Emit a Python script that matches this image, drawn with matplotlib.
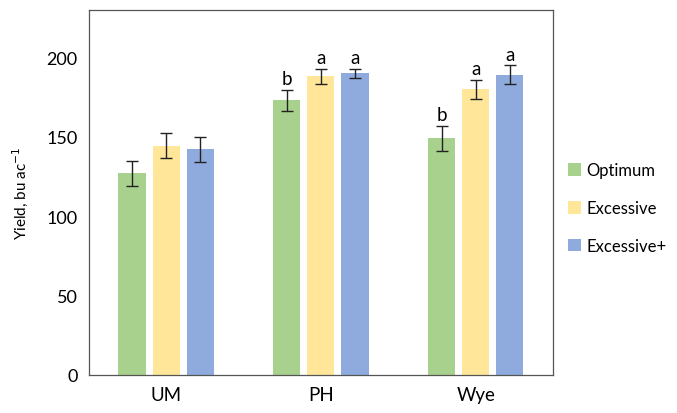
import numpy as np
import matplotlib
matplotlib.use("Agg")
import matplotlib.pyplot as plt

plt.rcParams["font.family"] = ["Lato", "DejaVu Sans"]

sites      = ["UM", "PH", "Wye"]
treatments = ["Optimum", "Excessive", "Excessive+"]
colors     = ["#A9D18E", "#FFE699", "#8FAADC"]

# yield means (bu/ac) per site, one list per treatment
means = {
    "Optimum":    [127, 173, 149],
    "Excessive":  [144.5, 188, 180],
    "Excessive+": [142, 190, 189],
}
errs = {
    "Optimum":    [8, 6.5, 8],
    "Excessive":  [8, 5, 6],
    "Excessive+": [8, 3, 6],
}
letters = {
    "Optimum":    ["", "b", "b"],
    "Excessive":  ["", "a", "a"],
    "Excessive+": ["", "a", "a"],
}

fig = plt.figure(figsize=(6.77, 4.14), dpi=100)
ax = fig.add_axes([0.131, 0.092, 0.686, 0.882])

x = np.arange(len(sites))
width = 0.175
step = 0.22

for i, (trt, col) in enumerate(zip(treatments, colors)):
    pos = x + (i - 1) * step
    ax.bar(pos, means[trt], width=width, color=col, label=trt, zorder=2)
    ax.errorbar(pos, means[trt], yerr=errs[trt], fmt="none", ecolor="#222222",
                elinewidth=1.0, capsize=4, capthick=1.0, zorder=3)
    for p, m, e, lt in zip(pos, means[trt], errs[trt], letters[trt]):
        if lt:
            ax.annotate(lt, (p, m + e), xytext=(0, 2), textcoords="offset points",
                        ha="center", va="bottom", fontsize=13.5)

ax.set_xlim(-0.5, 2.5)
ax.set_ylim(0, 230)
ax.set_yticks([0, 50, 100, 150, 200])
ax.set_xticks(x)
ax.set_xticklabels(sites, fontsize=13.5)
ax.tick_params(axis="y", labelsize=13, length=0, pad=8)
ax.tick_params(axis="x", length=0, pad=8)
for s in ax.spines.values():
    s.set_color("#555555")
    s.set_linewidth(0.9)
ax.set_ylabel("Yield, bu ac$^{-1}$", fontsize=11, labelpad=12)

ax.legend(loc="center left", bbox_to_anchor=(1.01, 0.457), frameon=False,
          fontsize=12, handlelength=0.8, handleheight=0.8, handletextpad=0.3,
          labelspacing=1.3, borderaxespad=0.2)

fig.savefig("out.png", dpi=100)
